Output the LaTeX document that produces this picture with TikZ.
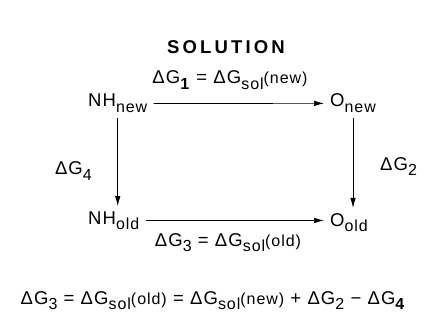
\documentclass[tikz,border=0pt]{standalone}
\usepackage{fontspec}
\setmainfont{Liberation Sans}[LetterSpace=6]
\usetikzlibrary{arrows.meta}
\newcommand{\sbs}[1]{\raisebox{-5.5pt}{\fontsize{16pt}{16pt}\selectfont #1}}
\newcommand{\smp}[1]{{\fontsize{16pt}{16pt}\selectfont #1}}
\begin{document}
\begin{tikzpicture}[x=1pt,y=-1pt,
  every node/.style={font=\fontsize{18.5pt}{21pt}\selectfont, inner sep=0pt},
  state/.style={inner xsep=6pt, inner ysep=5pt},
  lbl/.style={},
  arr/.style={line width=0.7pt, -{Latex[length=10pt,width=5.5pt]}}]
\useasboundingbox (0,0) rectangle (427,320);
\node[font=\fontsize{18.5pt}{21pt}\selectfont\bfseries\addfontfeatures{LetterSpace=17}] (title) at (226,47) {SOLUTION};
\node[state, anchor=base west] (nhnew) at (82,107) {NH\sbs{new}};
\node[state, anchor=base west] (onew) at (324,107) {O\sbs{new}};
\node[state, anchor=base west] (nhold) at (82,224) {NH\sbs{old}};
\node[state, anchor=base west] (oold) at (324,226) {O\sbs{old}};
\draw[arr] (nhnew) -- (onew);
\draw[arr] (nhold.east) -- (nhold.east -| oold.west);
\draw[arr] (nhnew.south) -- (nhnew.south |- nhold.north);
\draw[arr] (onew.south) -- (onew.south |- oold.north);
\node[lbl, anchor=base] (l1) at (230,84) {ΔG\sbs{\textbf{1}} = ΔG\sbs{sol}\smp{(new)}};
\node[lbl, anchor=base east] (l4) at (92,175) {ΔG\sbs{4}};
\node[lbl, anchor=base west] (l2) at (380,170) {ΔG\sbs{2}};
\node[lbl, anchor=base] (l3) at (228,246) {ΔG\sbs{3} = ΔG\sbs{sol}\smp{(old)}};
\node[lbl, anchor=base] (eq) at (213,304) {ΔG\sbs{3} = ΔG\sbs{sol}\smp{(old)} = ΔG\sbs{sol}\smp{(new)} + ΔG\sbs{2} − ΔG\sbs{\textbf{4}}};
\end{tikzpicture}
\end{document}
